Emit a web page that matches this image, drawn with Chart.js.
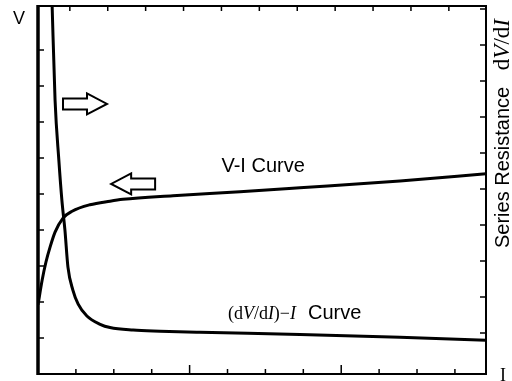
<!DOCTYPE html>
<html lang="en">
<head>
    <meta charset="UTF-8">
    <title>V-I and dV/dI curves</title>
    <script src="https://cdn.jsdelivr.net/npm/chart.js"></script>
    <style>
        html, body { margin: 0; padding: 0; background: #fff; }
        #wrap { width: 512px; height: 381px; }
    </style>
</head>
<body>
    <div id="wrap"><canvas id="curveChart" width="512" height="381"></canvas></div>

    <script>
        // V-I curve (current in tick units, voltage in tick units)
        const viCurrent = [0, 0.11, 0.21, 0.32, 0.45, 0.66, 0.9, 1.37, 1.9, 2.24, 3.56, 5.33, 6.91, 9.55, 11.82];
        const viVoltage = [1.92, 2.61, 3.11, 3.53, 3.94, 4.33, 4.52, 4.7, 4.8, 4.85, 4.95, 5.06, 5.17, 5.36, 5.56];

        // (dV/dI)-I curve
        const rsCurrent = [0.37, 0.45, 0.55, 0.63, 0.71, 0.79, 0.92, 1.06, 1.29, 1.64, 1.9, 2.51, 3.22, 4.27, 6.91, 9.55, 11.82];
        const rsResistance = [10.33, 7.61, 5.94, 4.83, 4.0, 2.97, 2.33, 1.94, 1.61, 1.38, 1.29, 1.22, 1.19, 1.16, 1.1, 1.02, 0.94];

        // tick marks (inward, no labels)
        const bottomTicks = [1, 2, 3, 4, 5, 6, 7, 8, 9, 10, 11];
        const bottomMajor = [4, 8];
        const topTicks = [0.84, 1.84, 2.84, 3.84, 4.84, 5.84, 6.84, 7.84, 8.84, 9.84, 10.84];
        const leftTicks = [1, 2, 3, 4, 5, 6, 7, 8, 9];
        const rightTicks = [1.14, 2.14, 3.14, 4.14, 5.14, 6.14, 7.14, 8.14, 9.14, 10.14];

        const sans = 'Arial, "Liberation Sans", sans-serif';
        const serif = '"Times New Roman", "Liberation Serif", serif';

        const frame = {
            id: 'frame',
            afterDraw(chart) {
                const ctx = chart.ctx;
                const a = chart.chartArea;
                const x = chart.scales.x, y = chart.scales.y, y2 = chart.scales.y2;
                ctx.save();
                ctx.strokeStyle = '#000';
                // box
                ctx.lineWidth = 2;
                ctx.beginPath();
                ctx.moveTo(a.left, a.top); ctx.lineTo(a.right, a.top);
                ctx.lineTo(a.right, a.bottom); ctx.lineTo(a.left, a.bottom);
                ctx.stroke();
                ctx.lineWidth = 3.5;
                ctx.beginPath();
                ctx.moveTo(a.left, a.top - 1); ctx.lineTo(a.left, a.bottom + 1);
                ctx.stroke();

                ctx.lineWidth = 1.5;
                ctx.beginPath();
                bottomTicks.forEach(v => {
                    const px = x.getPixelForValue(v);
                    const len = bottomMajor.includes(v) ? 9 : 5;
                    ctx.moveTo(px, a.bottom); ctx.lineTo(px, a.bottom - len);
                });
                topTicks.forEach(v => {
                    const px = x.getPixelForValue(v);
                    ctx.moveTo(px, a.top); ctx.lineTo(px, a.top + 5);
                });
                leftTicks.forEach(v => {
                    const py = y.getPixelForValue(v);
                    ctx.moveTo(a.left, py); ctx.lineTo(a.left + 6, py);
                });
                rightTicks.forEach(v => {
                    const py = y2.getPixelForValue(v);
                    ctx.moveTo(a.right, py); ctx.lineTo(a.right - 6, py);
                });
                ctx.stroke();

                // hollow arrows
                function arrow(x0, x1, yv) {
                    const p0 = x.getPixelForValue(x0);
                    const p1 = x.getPixelForValue(x1);
                    const py = y.getPixelForValue(yv);
                    const dir = Math.sign(p1 - p0);
                    const head = 20 * dir;
                    ctx.beginPath();
                    ctx.moveTo(p0, py - 5.5);
                    ctx.lineTo(p1 - head, py - 5.5);
                    ctx.lineTo(p1 - head, py - 10.5);
                    ctx.lineTo(p1, py);
                    ctx.lineTo(p1 - head, py + 10.5);
                    ctx.lineTo(p1 - head, py + 5.5);
                    ctx.lineTo(p0, py + 5.5);
                    ctx.closePath();
                    ctx.fillStyle = '#fff';
                    ctx.fill();
                    ctx.lineWidth = 2;
                    ctx.stroke();
                }
                arrow(0.66, 1.82, 7.5);
                arrow(3.09, 1.93, 5.28);

                // texts
                ctx.fillStyle = '#000';
                ctx.textBaseline = 'alphabetic';
                ctx.font = '18px ' + sans;
                ctx.textAlign = 'center';
                ctx.fillText('V', 19, 24);
                ctx.font = '18px ' + serif;
                ctx.fillText('I', 503, 381);

                ctx.font = '20px ' + sans;
                ctx.fillText('V-I Curve', x.getPixelForValue(5.94), y.getPixelForValue(5.61));

                // (dV/dI)-I  Curve
                ctx.textAlign = 'left';
                let cx = x.getPixelForValue(5.01);
                const by = y.getPixelForValue(1.53);
                const parts = [
                    ['(d', '18px ' + serif],
                    ['V', 'italic 18px ' + serif],
                    ['/d', '18px ' + serif],
                    ['I', 'italic 18px ' + serif],
                    [')', '18px ' + serif],
                    ['\u2212', '18px ' + serif],
                    ['I', 'italic 18px ' + serif]
                ];
                parts.forEach(([t, f]) => {
                    ctx.font = f;
                    ctx.fillText(t, cx, by);
                    cx += ctx.measureText(t).width;
                });
                ctx.font = '20px ' + sans;
                ctx.fillText('Curve', cx + 12, by);

                // right axis title
                ctx.translate(509, 248);
                ctx.rotate(-Math.PI / 2);
                ctx.font = '20px ' + sans;
                ctx.fillText('Series Resistance', 0, 0);
                let rx = ctx.measureText('Series Resistance   ').width;
                [['d', '23px ' + serif], ['V', 'italic 23px ' + serif], ['/d', '23px ' + serif], ['I', 'italic 23px ' + serif]].forEach(([t, f]) => {
                    ctx.font = f;
                    ctx.fillText(t, rx, 0);
                    rx += ctx.measureText(t).width;
                });
                ctx.restore();
            }
        };

        const ctx = document.getElementById('curveChart').getContext('2d');
        const chart = new Chart(ctx, {
            type: 'line',
            data: {
                datasets: [{
                    label: 'V-I Curve',
                    data: viCurrent.map((c, i) => ({ x: c, y: viVoltage[i] })),
                    yAxisID: 'y',
                    borderColor: '#000',
                    borderWidth: 3,
                    pointRadius: 0,
                    cubicInterpolationMode: 'monotone',
                    fill: false
                }, {
                    label: '(dV/dI)-I Curve',
                    data: rsCurrent.map((c, i) => ({ x: c, y: rsResistance[i] })),
                    yAxisID: 'y2',
                    borderColor: '#000',
                    borderWidth: 3,
                    pointRadius: 0,
                    cubicInterpolationMode: 'monotone',
                    fill: false
                }]
            },
            options: {
                responsive: false,
                animation: false,
                layout: { padding: { left: 38, top: 6, right: 26, bottom: 7 } },
                plugins: { legend: { display: false }, tooltip: { enabled: false } },
                scales: {
                    x: { type: 'linear', min: 0, max: 11.82, display: false },
                    y: { min: 0, max: 10.22, display: false },
                    y2: { min: 0, max: 10.22, display: false, position: 'right' }
                }
            },
            plugins: [frame]
        });
    </script>
</body>
</html>
